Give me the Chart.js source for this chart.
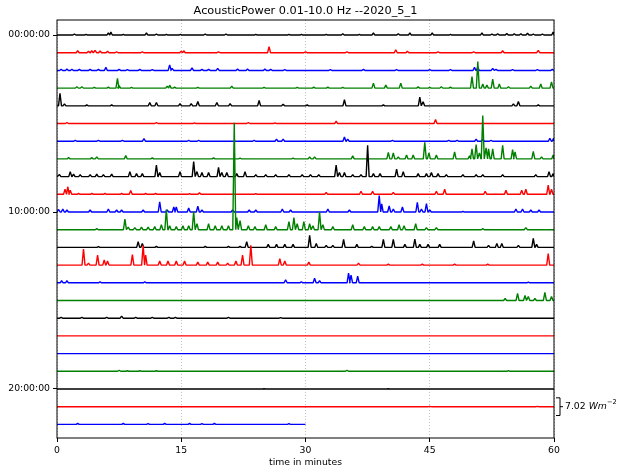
<!DOCTYPE html>
<html lang="en">
<head>
    <meta charset="UTF-8">
    <title>AcousticPower helicorder</title>
    <script src="https://cdn.jsdelivr.net/npm/chart.js"></script>
    <style>
        body { margin: 0; background: #fff; }
        #wrap { width: 620px; height: 474px; }
    </style>
</head>
<body>
<div id="wrap"><canvas id="heli" width="620" height="474"></canvas></div>
<script>
    // one trace per hour, x = minutes into the hour
    const xTicks = [0, 15, 30, 45, 60];
    const yTickRows = [0, 10, 20];
    const yTickLabels = ['00:00:00', '10:00:00', '20:00:00'];
    const scaleBarValue = 7.02;   // W m^-2 for one row spacing
    const scaleBarRow = 21;
    const rowMinutes = [60, 60, 60, 60, 60, 60, 60, 60, 60, 60, 60, 60,
                        60, 60, 60, 60, 60, 60, 60, 60, 60, 60, 30];

    // peaks per hour: [minute, acoustic power W m^-2]
    const row00 = [[2.1,0.4],[3.5,0.3],[6.2,0.8],[6.5,1.2],[8.0,0.3],[10.8,0.8],[12.0,0.4],[13.2,0.3],[14.9,0.3],[17.9,0.4],[20.4,0.4],[24.0,0.3],[28.0,0.3],[29.5,0.3],[32.5,0.3],[34.5,0.5],[36.5,0.3],[38.2,0.8],[41.2,0.5],[42.6,0.8],[45.3,0.8],[47.5,0.3],[51.3,0.8],[52.5,0.4],[53.2,0.5],[54.3,0.6],[55.2,0.5],[56.0,0.5],[56.8,0.7],[57.5,0.4],[58.6,0.4],[59.9,1.2]];
    const row01 = [[2.5,0.8],[3.8,0.6],[4.2,0.8],[4.6,0.9],[5.2,0.7],[6.1,0.6],[7.2,0.4],[10.3,0.4],[15.0,0.6],[15.3,0.8],[19.5,0.3],[25.6,2.4],[30.0,0.3],[35.0,0.3],[40.9,1.2],[42.3,0.6],[46.0,0.3],[50.3,0.4],[53.8,0.8],[58.1,0.9]];
    const row02 = [[0.5,0.5],[1.2,0.6],[1.8,0.5],[2.7,0.4],[4.0,0.4],[5.0,0.4],[5.9,1.2],[7.5,0.4],[8.5,0.3],[10.0,0.4],[11.5,0.3],[13.6,2.2],[13.9,0.8],[16.3,1.0],[17.5,0.4],[18.3,0.4],[19.4,0.8],[21.8,0.6],[23.0,0.6],[25.1,0.6],[25.8,0.4],[27.5,0.3],[33.0,0.3],[37.0,0.4],[41.0,0.3],[45.0,0.3],[47.5,0.3],[50.4,1.2],[50.8,1.2],[52.6,0.8],[53.0,0.4],[55.0,0.3],[58.0,0.3],[59.8,0.4]];
    const row03 = [[2.4,0.6],[3.0,0.6],[4.5,0.3],[6.2,0.4],[7.3,3.9],[7.5,1.0],[9.0,0.3],[13.3,0.8],[13.6,1.2],[14.2,0.4],[17.0,0.3],[21.1,0.8],[25.0,0.3],[29.0,0.3],[31.0,0.4],[32.7,0.4],[34.5,0.3],[38.2,2.0],[39.7,1.2],[41.5,2.0],[43.6,0.5],[45.0,0.3],[46.4,0.6],[47.5,0.4],[50.1,4.6],[50.8,10.5],[51.4,1.6],[51.9,1.2],[52.6,3.6],[53.4,1.6],[54.5,0.6],[57.2,0.8],[58.4,1.6],[59.7,2.5]];
    const row04 = [[0.36,5.0],[0.9,0.8],[3.6,0.4],[6.6,0.4],[11.2,1.3],[12.0,1.3],[14.85,0.9],[16.2,0.9],[17.0,1.7],[19.3,1.3],[20.9,0.9],[24.4,2.1],[27.3,0.6],[30.2,0.4],[34.7,2.4],[39.4,0.4],[43.8,3.5],[44.2,1.6],[55.1,0.8],[55.7,1.7],[58.1,0.4]];
    const row05 = [[1.2,0.4],[12.0,0.4],[16.6,0.3],[23.1,0.4],[26.3,0.3],[33.7,0.9],[45.7,1.6]];
    const row06 = [[2.2,0.3],[5.0,0.3],[7.9,0.3],[10.5,1.0],[15.9,0.4],[17.1,0.4],[23.8,0.4],[26.5,0.8],[27.3,0.8],[34.7,1.7],[35.1,0.8],[40.5,0.3],[47.3,0.3],[48.3,0.3],[50.6,0.8],[51.4,0.8],[52.4,0.4],[59.5,1.2],[59.95,1.2]];
    const row07 = [[1.4,0.6],[4.2,0.6],[4.8,0.8],[8.3,1.3],[11.5,0.4],[18.9,0.4],[22.1,0.3],[28.5,0.3],[30.5,0.8],[31.1,0.8],[35.7,1.2],[40.0,2.6],[40.6,2.4],[41.2,0.8],[42.2,1.6],[43.0,1.6],[44.4,6.6],[44.9,2.4],[45.8,1.6],[48.0,2.8],[49.8,1.2],[50.1,4.0],[50.6,5.7],[51.0,2.4],[51.4,17.2],[51.8,4.4],[52.1,4.0],[52.6,4.0],[53.8,5.4],[55.0,3.7],[55.3,2.8],[57.5,3.0],[58.5,0.8],[59.9,1.6]];
    const row08 = [[0.3,0.8],[1.6,2.0],[2.0,1.0],[2.8,0.8],[4.0,0.8],[4.8,1.0],[5.6,0.8],[6.6,1.0],[8.8,2.0],[9.6,1.2],[10.3,1.2],[12.0,4.6],[12.4,1.6],[14.85,2.0],[16.5,6.0],[16.9,2.0],[17.5,1.6],[18.3,1.6],[19.5,3.7],[19.9,1.6],[20.5,1.6],[21.7,1.2],[22.7,2.0],[24.0,0.8],[25.2,0.8],[26.4,0.8],[28.0,0.8],[29.6,0.8],[30.6,0.8],[31.6,0.8],[33.7,4.6],[34.1,1.6],[34.7,1.6],[35.7,0.8],[36.7,0.8],[37.5,12.4],[38.2,1.2],[39.0,1.2],[41.0,3.0],[41.8,2.0],[43.6,1.2],[44.6,1.2],[45.2,1.6],[46.0,1.2],[47.0,0.8],[49.0,0.8],[50.6,0.8],[51.4,0.8],[53.8,0.8],[57.8,0.8],[59.4,2.0],[59.9,1.2]];
    const row09 = [[0.97,2.0],[1.3,3.0],[1.6,1.6],[2.6,0.4],[4.2,0.4],[5.8,0.4],[7.8,0.4],[8.9,1.5],[10.7,0.4],[11.9,0.4],[16.0,0.3],[17.2,0.6],[24.0,0.3],[32.5,0.8],[36.7,1.2],[38.1,1.2],[40.6,0.8],[45.8,1.2],[46.8,2.0],[51.7,1.2],[54.2,1.6],[56.1,1.6],[56.6,2.0],[59.3,3.7],[59.7,2.0]];
    const row10 = [[0.2,1.0],[0.7,1.2],[1.2,0.8],[4.0,0.8],[6.2,1.2],[7.2,0.8],[7.8,0.8],[10.4,0.8],[12.4,4.0],[13.3,0.8],[14.1,2.0],[14.4,2.0],[15.9,1.6],[17.0,2.3],[17.5,0.8],[21.2,0.8],[23.2,0.8],[24.0,0.8],[27.2,1.2],[28.2,0.8],[32.7,1.2],[35.3,0.8],[38.9,6.5],[39.2,3.2],[40.1,2.4],[40.6,1.2],[41.7,2.0],[43.5,3.8],[44.0,1.2],[44.6,3.3],[45.0,0.8],[49.0,0.3],[55.4,1.2],[56.2,1.2],[57.2,0.8],[58.2,0.8]];
    const row11 = [[4.8,0.4],[8.2,4.2],[8.6,1.0],[9.4,0.8],[10.2,1.0],[11.0,1.0],[11.8,1.2],[12.6,2.0],[13.2,8.0],[13.6,1.6],[14.4,1.2],[15.2,1.6],[15.9,1.6],[16.5,7.2],[16.9,2.4],[18.3,2.4],[19.1,1.6],[19.9,1.6],[20.7,1.6],[21.4,42.4],[21.7,4.8],[22.1,3.6],[23.1,1.6],[23.9,1.2],[25.2,2.0],[26.4,1.2],[28.0,3.2],[28.6,4.8],[29.0,2.4],[29.8,3.2],[30.5,2.4],[30.9,1.6],[31.7,7.0],[32.1,2.0],[33.3,1.2],[35.7,2.0],[37.1,1.2],[38.1,1.2],[38.9,1.2],[40.3,1.2],[41.3,2.0],[41.9,1.6],[43.3,2.4],[44.6,0.8],[45.8,0.8],[51.4,0.4],[56.6,0.8]];
    const row12 = [[5.0,0.3],[9.8,2.3],[10.3,1.6],[12.0,0.4],[17.9,0.4],[20.7,0.4],[22.1,0.4],[22.9,2.3],[25.5,1.2],[26.5,1.2],[27.5,1.2],[28.5,1.2],[30.5,4.8],[31.3,1.6],[32.5,0.8],[33.3,0.8],[34.6,3.2],[36.2,1.2],[38.0,0.4],[39.4,3.2],[40.6,3.2],[42.0,1.2],[43.2,3.3],[43.8,1.2],[44.8,1.2],[46.2,1.2],[50.3,2.6],[52.1,0.8],[53.1,1.6],[53.7,1.6],[55.7,0.8],[57.5,3.6],[57.9,1.2]];
    const row13 = [[3.2,6.4],[3.8,0.8],[4.9,4.0],[5.7,2.0],[6.1,1.6],[9.1,4.2],[10.4,7.9],[10.7,4.0],[12.4,1.6],[13.4,1.6],[14.4,1.6],[15.4,1.6],[17.0,1.2],[18.2,1.2],[19.4,1.2],[20.6,0.8],[21.6,1.6],[22.4,4.0],[23.4,7.9],[26.9,2.6],[27.5,1.6],[30.4,1.2],[36.4,0.8],[40.0,0.4],[44.1,0.4],[48.0,0.4],[52.0,0.4],[59.3,4.6]];
    const row14 = [[0.56,0.8],[1.2,0.8],[5.2,0.4],[10.6,0.4],[27.6,1.2],[29.5,0.4],[31.1,1.8],[31.7,0.8],[35.2,3.8],[35.5,3.0],[36.3,2.6],[56.9,0.3]];
    const row15 = [[54.1,0.8],[55.6,2.8],[56.5,2.0],[56.9,1.6],[57.7,0.8],[58.9,3.2],[59.7,1.6]];
    const row16 = [[0.5,0.3],[3.0,0.3],[6.0,0.3],[7.8,0.8],[9.5,0.3],[11.5,0.3],[13.5,0.3],[14.3,0.3],[20.7,0.3],[27.0,0.2]];
    const row17 = [];
    const row18 = [];
    const row19 = [[7.5,0.4],[8.5,0.2],[10.0,0.2],[12.0,0.2],[35.0,0.4],[54.5,0.3]];
    const row20 = [[25.0,0.1],[40.0,0.1]];
    const row21 = [[45.0,0.1],[58.0,0.1]];
    const row22 = [[2.5,0.4],[8.0,0.4],[11.0,0.3],[13.0,0.4],[16.0,0.4],[17.5,0.3],[19.0,0.4],[28.0,0.3]];

    const hourRows = [row00, row01, row02, row03, row04, row05, row06, row07, row08, row09, row10, row11,
                      row12, row13, row14, row15, row16, row17, row18, row19, row20, row21, row22];

    const traceColors = ['#000000', '#ff0000', '#0000ff', '#008000'];
    const font = 'DejaVu Sans';
    const halfWidth = 0.18;   // minutes either side of a peak

    // row i sits at y = -i, peaks scaled so one row = scaleBarValue
    function traceFor(peaks, row, end) {
        const pts = [{ x: 0, y: -row }];
        peaks.slice().sort((a, b) => a[0] - b[0]).forEach(([t, v]) => {
            pts.push({ x: Math.max(0, t - halfWidth), y: -row });
            pts.push({ x: t, y: -row + v / scaleBarValue });
            pts.push({ x: Math.min(end, t + halfWidth), y: -row });
        });
        pts.push({ x: end, y: -row });
        return pts;
    }

    const datasets = hourRows.map((peaks, i) => ({
        data: traceFor(peaks, i, rowMinutes[i]),
        borderColor: traceColors[i % 4],
        borderWidth: 1.4,
        borderJoinStyle: 'bevel',
        pointRadius: 0,
        fill: false,
        order: -i
    }));

    const frameAndLabels = {
        id: 'frameAndLabels',
        afterDatasetsDraw(chart) {
            const { ctx, chartArea: a, scales } = chart;
            ctx.save();
            ctx.strokeStyle = '#000';
            ctx.lineWidth = 1;
            ctx.strokeRect(a.left, a.top, a.right - a.left, a.bottom - a.top);

            // title
            ctx.fillStyle = '#000';
            ctx.font = '11.3px "' + font + '"';
            ctx.textAlign = 'center';
            ctx.textBaseline = 'middle';
            ctx.fillText('AcousticPower 0.01-10.0 Hz --2020_5_1', (a.left + a.right) / 2, 11);

            // scale bar spanning one row
            const yTop = scales.y.getPixelForValue(-scaleBarRow + 0.5);
            const yBot = scales.y.getPixelForValue(-scaleBarRow - 0.5);
            const yMid = (yTop + yBot) / 2;
            const xs = a.right + 6;
            ctx.beginPath();
            ctx.moveTo(a.right + 2, yTop);
            ctx.lineTo(xs, yTop);
            ctx.lineTo(xs, yBot);
            ctx.lineTo(a.right + 2, yBot);
            ctx.moveTo(xs, yMid);
            ctx.lineTo(xs + 3, yMid);
            ctx.stroke();

            ctx.textAlign = 'left';
            ctx.font = '9.3px "' + font + '"';
            let x = xs + 5;
            const num = scaleBarValue.toFixed(2) + ' ';
            ctx.fillText(num, x, yMid);
            x += ctx.measureText(num).width;
            ctx.font = 'italic 9.3px "' + font + '"';
            ctx.fillText('Wm', x, yMid);
            x += ctx.measureText('Wm').width;
            ctx.font = '6.6px "' + font + '"';
            ctx.fillText('\u22122', x, yMid - 4);
            ctx.restore();
        }
    };

    new Chart(document.getElementById('heli'), {
        type: 'line',
        data: { datasets },
        plugins: [frameAndLabels],
        options: {
            responsive: false,
            animation: false,
            layout: { padding: { top: 20, right: 66, left: 0, bottom: 0 } },
            plugins: { legend: { display: false }, tooltip: { enabled: false } },
            scales: {
                x: {
                    type: 'linear',
                    min: 0,
                    max: 60,
                    afterBuildTicks: s => { s.ticks = xTicks.map(v => ({ value: v })); },
                    afterFit: s => { s.height = 36; },
                    ticks: { color: '#000', padding: 3, maxRotation: 0, font: { family: font, size: 9.3 } },
                    grid: { color: '#b0b0b0', lineWidth: 0.8, tickColor: '#000', tickLength: 4, tickWidth: 1 },
                    border: { display: false, dash: [1, 2] },
                    title: {
                        display: true,
                        text: 'time in minutes',
                        color: '#000',
                        font: { family: font, size: 9.3 },
                        padding: { top: 0, bottom: 6 }
                    }
                },
                y: {
                    type: 'linear',
                    min: -22.77,
                    max: 0.85,
                    afterBuildTicks: s => { s.ticks = yTickRows.map(r => ({ value: -r })); },
                    afterFit: s => { s.width = 57; },
                    ticks: {
                        color: '#000',
                        padding: 3,
                        font: { family: font, size: 9.3 },
                        callback: v => yTickLabels[yTickRows.indexOf(-v)]
                    },
                    grid: { drawOnChartArea: false, color: '#000', tickLength: 4 },
                    border: { display: false }
                }
            }
        }
    });
</script>
</body>
</html>
